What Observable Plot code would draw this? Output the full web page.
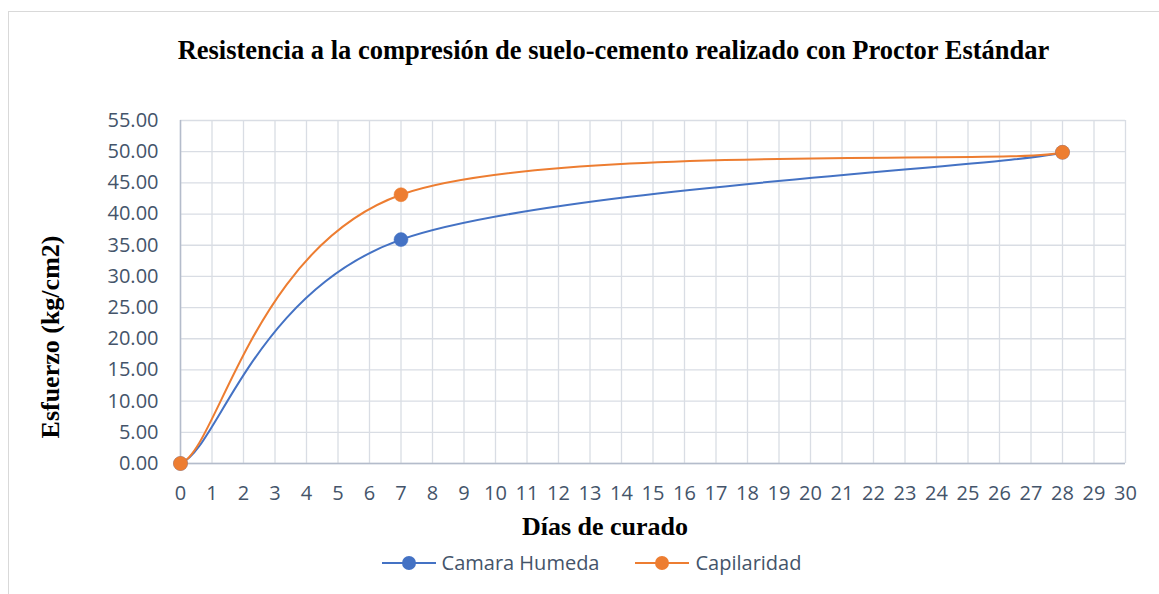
<!DOCTYPE html>
<html>
<head>
<meta charset="utf-8">
<script src="https://cdn.jsdelivr.net/npm/d3@7"></script>
<script src="https://cdn.jsdelivr.net/npm/@observablehq/plot@0.6"></script>
<style>
  html, body { margin: 0; padding: 0; background: #fff; }
  #frame { position: absolute; left: 8px; top: 11px; width: 1160px; height: 600px;
           border-left: 1px solid #d9d9d9; border-top: 1px solid #d9d9d9; pointer-events: none; }
  #wrap { position: relative; width: 1159px; height: 594px; overflow: hidden; }
  #title { height: 95px; line-height: 100px; text-align: center; padding-left: 68px;
           font-family: "Liberation Serif", "Times New Roman", serif; font-weight: bold; font-size: 26.5px; color: #000; }
  #legend { display: flex; justify-content: center; align-items: center; gap: 36px; padding-left: 24px; margin-top: 4px;
            font-family: "Open Sans", sans-serif; font-size: 20px; color: #44546a; }
  .item { display: flex; align-items: center; gap: 6px; }
</style>
</head>
<body>
<div id="wrap">
  <div id="title"></div>
  <div id="chart"></div>
  <div id="legend"></div>
  <div id="frame"></div>
</div>
<script>
const titleText = "Resistencia a la compresión de suelo-cemento realizado con Proctor Estándar";
const xLabel = "Días de curado";
const yLabel = "Esfuerzo (kg/cm2)";
const seriesNames = ["Camara Humeda", "Capilaridad"];
const seriesColors = ["#4472C4", "#ED7D31"];
const dias = [0, 7, 28];
const camaraHumeda = [0, 35.9, 49.9];
const capilaridad = [0, 43.1, 49.9];
const xTicks = [0,1,2,3,4,5,6,7,8,9,10,11,12,13,14,15,16,17,18,19,20,21,22,23,24,25,26,27,28,29,30];
const yTicks = [0,5,10,15,20,25,30,35,40,45,50,55];

document.getElementById("title").textContent = titleText;

const data = [];
dias.forEach((d, i) => data.push({serie: seriesNames[0], x: d, y: camaraHumeda[i]}));
dias.forEach((d, i) => data.push({serie: seriesNames[1], x: d, y: capilaridad[i]}));

// Spreadsheet-style smoothed line (Bezier through the points)
function SmoothCurve(context) { this._context = context; }
SmoothCurve.prototype = {
  areaStart() { this._line = 0; },
  areaEnd() { this._line = NaN; },
  lineStart() { this._pts = []; },
  point(x, y) { this._pts.push([+x, +y]); },
  lineEnd() {
    const p = this._pts, n = p.length, c = this._context;
    if (!n) return;
    if (this._line) c.lineTo(p[0][0], p[0][1]); else c.moveTo(p[0][0], p[0][1]);
    if (n === 2) { c.lineTo(p[1][0], p[1][1]); }
    else if (n > 2) {
      const t = p.map((_, i) => {
        if (i === 0 || i === n - 1) return null;
        return [(p[i + 1][0] - p[i - 1][0]) / 6, (p[i + 1][1] - p[i - 1][1]) / 6];
      });
      t[0] = [t[1][0] * 0.25, t[1][1] * 0.25];
      t[n - 1] = [t[n - 2][0] * 0.25, t[n - 2][1] * 0.25];
      for (let i = 0; i < n - 1; i++) {
        c.bezierCurveTo(p[i][0] + t[i][0], p[i][1] + t[i][1],
                        p[i + 1][0] - t[i + 1][0], p[i + 1][1] - t[i + 1][1],
                        p[i + 1][0], p[i + 1][1]);
      }
    }
    this._line = 1 - this._line;
  }
};
const smooth = (context) => new SmoothCurve(context);

const chart = Plot.plot({
  width: 1159,
  height: 450,
  marginTop: 25,
  marginBottom: 82,
  marginLeft: 180,
  marginRight: 34,
  style: {fontFamily: "Open Sans, sans-serif", fontSize: "20px", color: "#44546a", background: "transparent"},
  x: {domain: [0, 30]},
  y: {domain: [0, 55]},
  color: {domain: seriesNames, range: seriesColors},
  marks: [
    Plot.gridX(xTicks, {stroke: "#d9dde4", strokeOpacity: 1, strokeWidth: 1.3}),
    Plot.gridY(yTicks, {stroke: "#d9dde4", strokeOpacity: 1, strokeWidth: 1.3}),
    Plot.ruleY([0], {stroke: "#b4bccb", strokeWidth: 1.5}),
    Plot.ruleX([0], {stroke: "#b4bccb", strokeWidth: 1.5}),
    Plot.axisX(xTicks, {tickSize: 0, tickPadding: 22, label: null, fill: "#44546a"}),
    Plot.axisY(yTicks, {tickSize: 0, tickPadding: 22, tickFormat: d3.format(".2f"), label: null, fill: "#44546a"}),
    Plot.line(data, {x: "x", y: "y", z: "serie", stroke: "serie", curve: smooth, strokeWidth: 2}),
    Plot.dot(data, {x: "x", y: "y", fill: "serie", r: 7, stroke: "serie", strokeWidth: 0.5}),
    Plot.text([xLabel], {frameAnchor: "bottom", dx: -48, dy: 71, text: d => d, fontFamily: "Liberation Serif, serif",
      fontWeight: "bold", fontSize: 26, fill: "#000"}),
    Plot.text([yLabel], {frameAnchor: "left", textAnchor: "middle", dx: -130, dy: 45, rotate: -90, text: d => d,
      fontFamily: "Liberation Serif, serif", fontWeight: "bold", fontSize: 26, fill: "#000"})
  ]
});
document.getElementById("chart").appendChild(chart);

const legend = document.getElementById("legend");
seriesNames.forEach((name, i) => {
  const item = document.createElement("div");
  item.className = "item";
  const c = seriesColors[i];
  item.innerHTML = `<svg width="54" height="16"><line x1="0" x2="54" y1="8" y2="8" stroke="${c}" stroke-width="2"/><circle cx="27" cy="8" r="7" fill="${c}"/></svg><span>${name}</span>`;
  legend.appendChild(item);
});
</script>
</body>
</html>
